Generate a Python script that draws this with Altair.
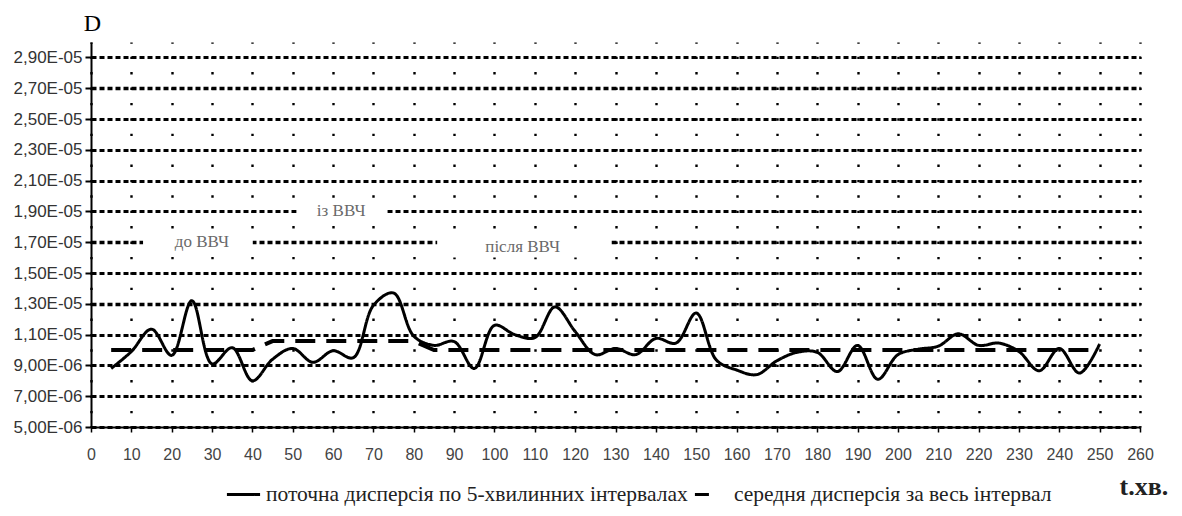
import altair as alt
import pandas as pd

# ---- data ----
t_min = [5, 10, 15, 20, 25, 30, 35, 40, 45, 50,
         55, 60, 65, 70, 75, 80, 85, 90, 95, 100,
         105, 110, 115, 120, 125, 130, 135, 140, 145, 150,
         155, 160, 165, 170, 175, 180, 185, 190, 195, 200,
         205, 210, 215, 220, 225, 230, 235, 240, 245, 250]
current_e6 = [8.8, 9.9, 11.35, 9.65, 13.2, 9.1, 10.15, 8.0, 9.4, 10.1,
              9.2, 9.95, 9.5, 12.9, 13.7, 10.9, 10.3, 10.55, 8.8, 11.6,
              11.0, 10.8, 12.8, 11.2, 9.7, 10.1, 9.7, 10.75, 10.45, 12.4,
              9.35, 8.7, 8.4, 9.3, 9.85, 9.85, 8.6, 10.3, 8.1, 9.7,
              10.05, 10.25, 11.05, 10.3, 10.45, 9.9, 8.65, 10.1, 8.5, 10.4]
mean_e6 = [10.0, 10.0, 10.0, 10.0, 10.0, 10.0, 10.0, 10.0, 10.58, 10.58,
           10.58, 10.58, 10.58, 10.58, 10.58, 10.58, 10.0, 10.0, 10.0, 10.0,
           10.0, 10.0, 10.0, 10.0, 10.0, 10.0, 10.0, 10.0, 10.0, 10.0,
           10.0, 10.0, 10.0, 10.0, 10.0, 10.0, 10.0, 10.0, 10.0, 10.0,
           10.0, 10.0, 10.0, 10.0, 10.0, 10.0, 10.0, 10.0, 10.0, 10.0]
series_names = ["поточна дисперсія по 5-хвилинних інтервалах",
                "середня дисперсія за весь інтервал"]

x_ticks = [0, 10, 20, 30, 40, 50, 60, 70, 80, 90, 100, 110, 120, 130,
           140, 150, 160, 170, 180, 190, 200, 210, 220, 230, 240, 250, 260]
y_ticks = [5e-6, 7e-6, 9e-6, 1.1e-5, 1.3e-5, 1.5e-5, 1.7e-5, 1.9e-5,
           2.1e-5, 2.3e-5, 2.5e-5, 2.7e-5, 2.9e-5]
y_tick_labels = ["5,00E-06", "7,00E-06", "9,00E-06", "1,10E-05", "1,30E-05",
                 "1,50E-05", "1,70E-05", "1,90E-05", "2,10E-05", "2,30E-05",
                 "2,50E-05", "2,70E-05", "2,90E-05"]

ann_labels = ["до ВВЧ", "із ВВЧ", "після ВВЧ"]
ann_t = [27.5, 62.0, 107.0]
ann_v = [1.70e-5, 1.90e-5, 1.67e-5]
box_t0 = [12.9, 51.0, 85.8]
box_t1 = [40.1, 73.4, 129.0]
box_v0 = [1.62e-5, 1.83e-5, 1.60e-5]
box_v1 = [1.78e-5, 1.97e-5, 1.78e-5]

# ---- tables ----
rows = []
for tt, c in zip(t_min, current_e6):
    rows.append({"t": tt, "D": c * 1e-6, "series": series_names[0]})
for tt, m in zip(t_min, mean_e6):
    rows.append({"t": tt, "D": m * 1e-6, "series": series_names[1]})
df = pd.DataFrame(rows)
ann = pd.DataFrame({"label": ann_labels, "t": ann_t, "v": ann_v,
                    "t0": box_t0, "t1": box_t1, "v0": box_v0, "v1": box_v1})

label_arr = "[" + ",".join("'%s'" % s for s in y_tick_labels) + "]"
y_label_expr = label_arr + "[round((datum.value - 5e-6) / 2e-6)]"
bold_test = ("abs(datum.value - 2.7e-5) < 1e-9 || abs(datum.value - 1.7e-5) < 1e-9 "
             "|| abs(datum.value - 1.3e-5) < 1e-9")

x_scale = alt.Scale(domain=[0, 260], nice=False, zero=False)
y_scale = alt.Scale(domain=[5e-6, 3.0e-5], nice=False, zero=False)

x_axis = alt.Axis(values=x_ticks, title="t.хв.", labelFont="Liberation Sans",
                  labelFontSize=16, labelColor="#444", labelPadding=14,
                  labelOverlap=False, tickSize=5, tickColor="black", tickWidth=1.5,
                  domainColor="black", domainWidth=2,
                  grid=True, gridColor="black", gridDash=[2.4, 13],
                  gridDashOffset=1.2, gridWidth=2.4,
                  titleFont="Liberation Serif", titleFontSize=26,
                  titleFontWeight="bold", titleColor="#222",
                  titleAlign="left", titleBaseline="alphabetic",
                  titleX=1028, titleY=67, labelFlush=False)
y_axis = alt.Axis(values=y_ticks, labelExpr=y_label_expr, title="D",
                  labelFont="Liberation Sans", labelFontSize=17,
                  labelColor="#333", labelPadding=3, labelOverlap=False,
                  tickSize=6, tickColor="black", tickWidth=2,
                  domainColor="black", domainWidth=2,
                  grid=True, gridColor="black", gridDash=[5, 3],
                  gridWidth=alt.condition(bold_test, alt.value(3.6), alt.value(2.8)),
                  titleAngle=0, titleFont="Liberation Serif", titleFontSize=24,
                  titleFontWeight="normal", titleColor="black",
                  titleAlign="center", titleBaseline="alphabetic",
                  titleX=1, titleY=-12)


def X(field):
    return alt.X(field, scale=x_scale, axis=x_axis)


def Y(field):
    return alt.Y(field, scale=y_scale, axis=y_axis)


legend = alt.Legend(orient="none", legendX=134, legendY=434,
                    direction="horizontal", title=None,
                    symbolType="stroke", symbolSize=1100,
                    symbolStrokeWidth=3, symbolStrokeColor="black",
                    labelFont="Liberation Serif", labelFontSize=21.5,
                    labelColor="#222", labelLimit=0,
                    columnPadding=0, labelOffset=4)
color = alt.Color("series:N",
                  scale=alt.Scale(domain=series_names, range=["black", "black"]),
                  legend=legend)
dash = alt.StrokeDash("series:N",
                      scale=alt.Scale(domain=series_names, range=[[1, 0], [14, 30]]),
                      legend=legend)

base = alt.Chart(df)

boxes = alt.Chart(ann).mark_rect(color="white").encode(
    x=X("t0:Q"), x2="t1:Q", y=Y("v0:Q"), y2="v1:Q",
)
texts = alt.Chart(ann).mark_text(font="Liberation Serif", fontSize=17,
                                 color="#6a6a6a", align="center",
                                 baseline="middle").encode(
    x=X("t:Q"), y=Y("v:Q"), text="label:N",
)

cur_line = base.transform_filter(
    alt.datum.series == series_names[0]
).mark_line(interpolate="catmull-rom", strokeWidth=3, strokeJoin="round").encode(
    x=X("t:Q"), y=Y("D:Q"), color=color, strokeDash=dash,
)
mean_line = base.transform_filter(
    alt.datum.series == series_names[1]
).mark_line(strokeWidth=4, strokeDash=[20, 11]).encode(
    x=X("t:Q"), y=Y("D:Q"), color=color,
)

chart = alt.layer(boxes, texts, mean_line, cur_line).properties(
    width=1049, height=385,
    autosize=alt.AutoSizeParams(type="none"),
    padding={"left": 83, "top": 34, "right": 34, "bottom": 81},
    background="white",
).configure_view(stroke=None)

chart.save("out.html", embed_options={"renderer": "svg", "actions": False})
